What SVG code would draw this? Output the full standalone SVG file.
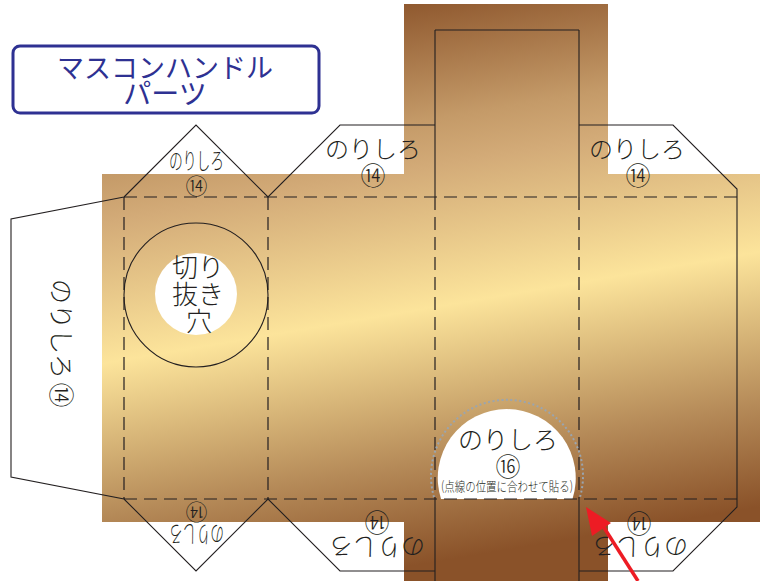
<svg xmlns="http://www.w3.org/2000/svg" width="764" height="581" viewBox="0 0 764 581">
<style>
.l{fill:none;stroke:#231f20;stroke-width:1.1}
.d{fill:none;stroke:#231f20;stroke-width:1.2;stroke-dasharray:13 7}
text{font-family:"Noto Sans CJK JP","Noto Sans",sans-serif;fill:#231f20;text-anchor:middle;font-weight:300}
.t{fill:#2e3192;font-size:27px;font-weight:400}
.lg{font-size:24px}
.c{font-size:25px}
.s{font-size:23px}
</style>
<defs>
<linearGradient id="g" gradientUnits="userSpaceOnUse" x1="0" y1="60" x2="99" y2="643">
<stop offset="0" stop-color="#8a5229"/>
<stop offset="0.22" stop-color="#c49a68"/>
<stop offset="0.30" stop-color="#d3ab78"/>
<stop offset="0.535" stop-color="#fce49b"/>
<stop offset="0.79" stop-color="#b58a58"/>
<stop offset="0.96" stop-color="#8a5229"/>
</linearGradient>
</defs>
<rect width="764" height="581" fill="#fff"/>
<g id="board">
<path d="M404 4H608V174H760V522H608V581H404V522H102V174H404Z" fill="url(#g)"/>
<circle cx="196" cy="294" r="41" fill="#fff"/>
<path d="M441 499A69 69 0 1 1 572.5 499Z" fill="#fff"/>
</g>
<g id="title">
<rect x="13" y="46" width="306" height="67" rx="7" fill="#fff" stroke="#2e3192" stroke-width="3"/>
<text class="t" x="165" y="78">マスコンハンドル</text>
<text class="t" x="165" y="104" style="font-size:28px">パーツ</text>
</g>
<g id="connectors">
<path class="l" d="M124 197L196 125L268 197L340 125H435M579 125H673L737 189V499V507L673 571H579M435 571H340L268 499L196 571L124 499L11 477V219L124 197M435 30H579M435 30V197M579 30V197M435 499V581M579 499V581"/>
<path class="d" d="M124 197H737M124 499H737M124 197V499M268 197V499M435 197V499M579 197V499"/>
<circle class="l" cx="196" cy="295" r="72"/>
<path d="M434 497A76 76 0 1 1 580 497" fill="none" stroke="#9aa5b0" stroke-width="2" stroke-dasharray="2 2.5"/>
</g>
<g id="tab-top-left">
<text class="s" transform="translate(196.5 169) scale(.6 1)">のりしろ</text>
<text x="196.5" y="194" font-size="22">⑭</text>
</g>
<g id="tab-top-mid">
<text class="lg" x="373" y="158">のりしろ</text>
<text class="c" x="373" y="185">⑭</text>
</g>
<g id="tab-top-right">
<text class="lg" x="637" y="158">のりしろ</text>
<text class="c" x="638" y="185">⑭</text>
</g>
<g id="tab-bottom-left">
<text class="s" transform="translate(196.5 526) rotate(180) scale(.6 1)">のりしろ</text>
<text x="196.5" y="520" font-size="22" transform="rotate(180 196.5 512)">⑭</text>
</g>
<g id="tab-bottom-mid">
<text class="lg" transform="translate(377 538) rotate(180)">のりしろ</text>
<text class="c" transform="translate(377 513) rotate(180)">⑭</text>
</g>
<g id="tab-bottom-right">
<text class="lg" transform="translate(640 538) rotate(180)">のりしろ</text>
<text class="c" transform="translate(639 514) rotate(180)">⑭</text>
</g>
<g id="tab-left">
<text class="lg" style="font-size:25px" transform="translate(52 329) rotate(90)">のりしろ</text>
<text class="c" transform="translate(52 395) rotate(90)">⑭</text>
</g>
<g id="hole">
<text x="198" y="277" font-size="26">切り</text>
<text x="198" y="304" font-size="26">抜き</text>
<text x="199" y="331" font-size="26">穴</text>
</g>
<g id="glue">
<text x="508" y="449" font-size="25">のりしろ</text>
<text x="508" y="476" font-size="25">⑯</text>
<text x="507" y="491" font-size="13" textLength="132" lengthAdjust="spacingAndGlyphs">(点線の位置に合わせて貼る)</text>
</g>
<g id="arrow">
<path d="M638 581L603 526" fill="none" stroke="#ed1c24" stroke-width="3.5"/>
<path d="M586 507L611 523L592 536Z" fill="#ed1c24"/>
</g>
</svg>
